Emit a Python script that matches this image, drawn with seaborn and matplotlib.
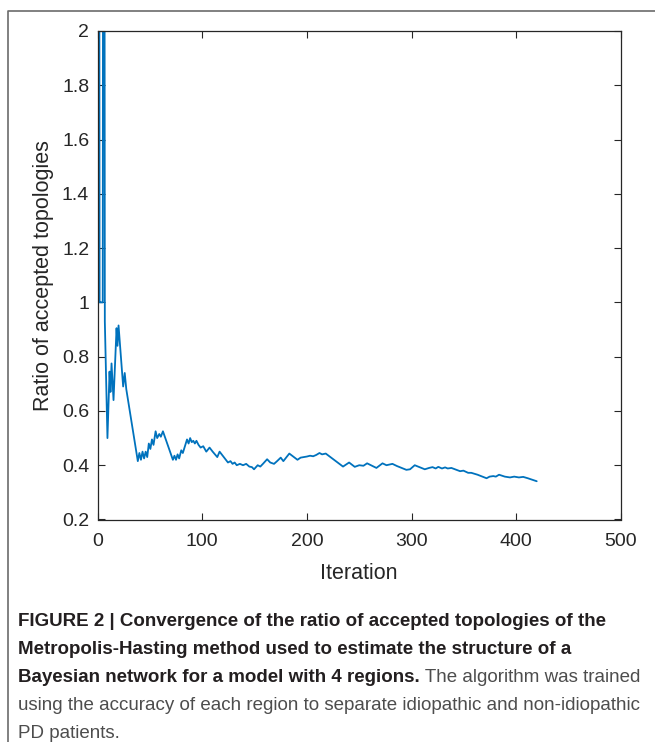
import matplotlib
matplotlib.use("Agg")
import matplotlib.pyplot as plt
from matplotlib import font_manager
from matplotlib.lines import Line2D
from matplotlib.ticker import FuncFormatter
import seaborn as sns
import pandas as pd

# ---- data ----
iterations = [1, 2, 3, 4, 5, 6, 7, 9.5, 11.5, 12.4, 13.4, 15.3, 18.2, 19.1, 20.1,
              24.5, 26, 27.5, 38.5, 40, 41.5, 43, 44.5, 46, 47.5, 49, 50.5, 52, 53.5,
              55.5, 57, 59, 60.5, 62.5, 72, 73.5, 75, 76.5, 78, 80, 81.5, 85.5, 87,
              88.5, 90, 91.5, 93, 94.5, 96.5, 98.5, 101, 103.9, 107, 110, 114.4, 116.6,
              124.6, 127, 129, 131, 133, 136, 139, 142, 145, 147.5, 149.5, 153, 155.5,
              158, 162, 165, 168.6, 171.5, 175, 177.5, 183.2, 191, 194, 197, 200, 203,
              206, 209, 212, 214.5, 218, 234.5, 240.3, 245.7, 250, 254, 257.5, 266.4,
              272.2, 276, 281.7, 286, 295, 298.5, 303, 312.6, 316.7, 320, 323, 325.5,
              329, 332, 334.5, 338, 346.3, 349.5, 354, 357, 363, 371.6, 374.5, 378,
              380.5, 383.5, 389, 394, 398, 402.5, 406.6, 411, 419.5]
ratio = [6.0, 1.0, 1.0, 1.0, 1.0, 6.0, 0.93, 0.50, 0.745, 0.67, 0.775, 0.64, 0.905, 0.84, 0.915,
         0.69, 0.74, 0.68, 0.415, 0.445, 0.42, 0.45, 0.425, 0.45, 0.43, 0.48, 0.46, 0.495, 0.475,
         0.525, 0.50, 0.515, 0.505, 0.525, 0.42, 0.435, 0.42, 0.44, 0.425, 0.455, 0.445, 0.495, 0.48,
         0.50, 0.485, 0.49, 0.48, 0.49, 0.475, 0.465, 0.47, 0.45, 0.465, 0.45, 0.43, 0.45,
         0.41, 0.415, 0.405, 0.41, 0.40, 0.405, 0.40, 0.405, 0.395, 0.393, 0.385, 0.40, 0.395,
         0.405, 0.422, 0.41, 0.405, 0.415, 0.428, 0.415, 0.443, 0.42, 0.428, 0.43, 0.432, 0.435,
         0.433, 0.438, 0.445, 0.44, 0.443, 0.395, 0.41, 0.394, 0.40, 0.398, 0.407, 0.39,
         0.407, 0.40, 0.405, 0.397, 0.383, 0.385, 0.40, 0.385, 0.39, 0.393, 0.388, 0.394,
         0.388, 0.392, 0.388, 0.39, 0.378, 0.38, 0.372, 0.372, 0.365, 0.352, 0.358, 0.36,
         0.358, 0.365, 0.358, 0.355, 0.358, 0.355, 0.357, 0.352, 0.341]

x_ticks = [0, 100, 200, 300, 400, 500]
y_ticks = [0.2, 0.4, 0.6, 0.8, 1.0, 1.2, 1.4, 1.6, 1.8, 2.0]
x_label = "Iteration"
y_label = "Ratio of accepted topologies"
caption_bold = ["FIGURE 2 | Convergence of the ratio of accepted topologies of the",
                "Metropolis-Hasting method used to estimate the structure of a",
                "Bayesian network for a model with 4 regions."]
caption_regular = [" The algorithm was trained",
                   "using the accuracy of each region to separate idiopathic and non-idiopathic",
                   "PD patients."]

df = pd.DataFrame({"Iteration": iterations, "Ratio": ratio})

# ---- style ----
sns.set_style("white")
names = {f.name for f in font_manager.fontManager.ttflist}
cap_font = "Liberation Sans Narrow" if "Liberation Sans Narrow" in names else "Liberation Sans"
plt.rcParams["font.family"] = ["Liberation Sans", "DejaVu Sans"]

W, H = 655, 742
fig = plt.figure(figsize=(W / 100, H / 100), dpi=100)
fig.patch.set_facecolor("white")

L, R, T, B = 97.5, 621, 31, 519.5
ax = fig.add_axes([L / W, 1 - B / H, (R - L) / W, (B - T) / H])

sns.lineplot(data=df, x="Iteration", y="Ratio", ax=ax, color="#0072BD",
             linewidth=1.3, estimator=None, sort=False)

ax.set_xlim(0, 500)
ax.set_ylim(0.2, 2.0)
ax.set_xticks(x_ticks)
ax.set_yticks(y_ticks)
ax.yaxis.set_major_formatter(FuncFormatter(lambda v, p: f"{v:g}"))
ax.set_xlabel(x_label, fontsize=15.5, color="#262626", labelpad=9)
ax.set_ylabel(y_label, fontsize=15.5, color="#262626", labelpad=6)
ax.tick_params(axis="both", which="both", direction="in", length=5, width=0.8,
               colors="#262626", labelsize=14, top=True, right=True,
               bottom=True, left=True)
ax.tick_params(axis="x", pad=10)
ax.tick_params(axis="y", pad=6)
for s in ax.spines.values():
    s.set_visible(True)
    s.set_color("#262626")
    s.set_linewidth(0.9)
ax.grid(False)

# ---- outer frame ----
fx = 7.5 / W
fy = 1 - 11 / H
fig.add_artist(Line2D([fx, fx, 1.0], [0.0, fy, fy], transform=fig.transFigure,
                      color="#6b6b6b", linewidth=1.2))

# ---- caption ----
cap_x = 18 / W
line_y = [622, 650, 678, 706, 734]
cs = 13.5
fig.canvas.draw()
renderer = fig.canvas.get_renderer()
for i, txt in enumerate(caption_bold):
    t = fig.text(cap_x, 1 - line_y[i] / H, txt, fontsize=cs, fontweight="bold",
                 family=cap_font, color="#231f20", va="center", ha="left")
    if i == 2:
        bb = t.get_window_extent(renderer=renderer)
        fig.text(bb.x1 / (W), 1 - line_y[i] / H, caption_regular[0], fontsize=cs,
                 family=cap_font, color="#4d4d4d", va="center", ha="left")
fig.text(cap_x, 1 - line_y[3] / H, caption_regular[1], fontsize=cs, family=cap_font,
         color="#4d4d4d", va="center", ha="left")
fig.text(cap_x, 1 - line_y[4] / H, caption_regular[2], fontsize=cs, family=cap_font,
         color="#4d4d4d", va="center", ha="left")

fig.savefig("out.png", dpi=100, facecolor="white")
